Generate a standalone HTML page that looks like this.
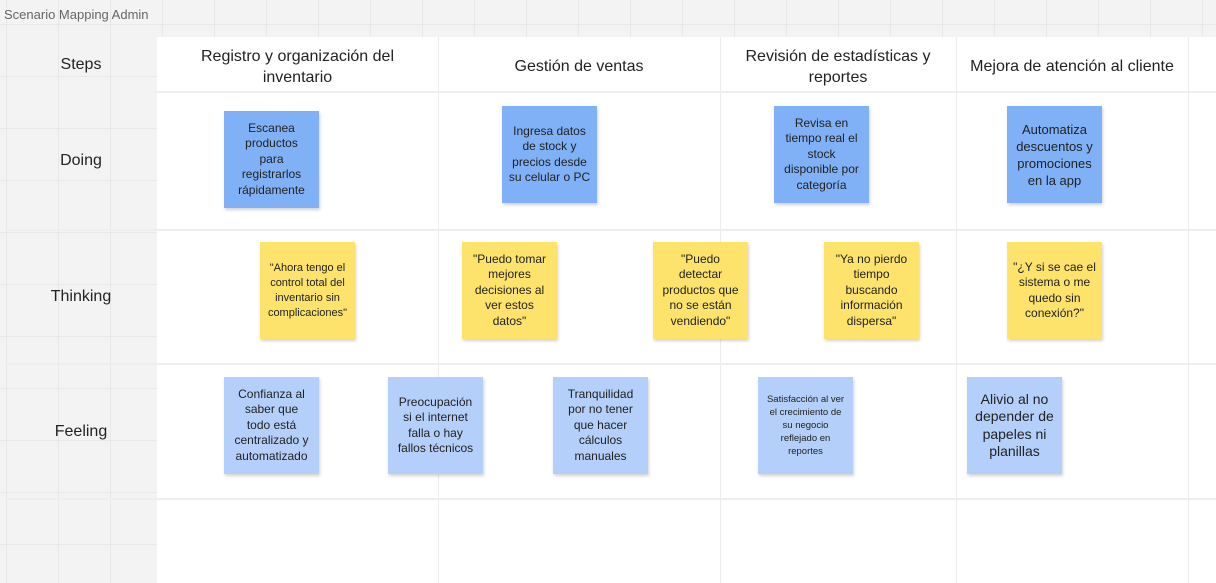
<!DOCTYPE html>
<html><head><meta charset="utf-8"><style>
*{margin:0;padding:0;box-sizing:border-box}
body{width:1216px;height:583px;overflow:hidden;position:relative;font-family:"Liberation Sans","DejaVu Sans",sans-serif;
background-color:#f3f3f3;
background-image:linear-gradient(to right,#e8e8e8 1px,transparent 1px),linear-gradient(to bottom,#e8e8e8 1px,transparent 1px);
background-size:52px 52px;background-position:6px 24px}
.a{position:absolute}
.title{left:4px;top:7px;font-size:13px;color:#666}
.board{left:157px;top:37px;width:1059px;height:546px;background:#fff}
.vl{position:absolute;top:37px;bottom:0;width:1px;background:#ececec}
.hl{position:absolute;left:5px;right:0;height:2px;background:#eeeeee}
.hd{position:absolute;top:39px;height:55px;display:flex;align-items:center;justify-content:center;text-align:center;font-size:16px;color:#222;line-height:21px}
.rl{position:absolute;left:5px;width:152px;text-align:center;font-size:16px;color:#222}
.s{position:absolute;width:95px;height:97px;display:flex;align-items:center;justify-content:center;text-align:center;font-size:12px;line-height:15.5px;color:#222;padding:4px 8px;box-shadow:1px 2px 3px rgba(0,0,0,.18)}
.b{background:#80b0f6}.y{background:#fde36c}.l{background:#b4cffa}
</style></head><body>
<div class="a title">Scenario Mapping Admin</div>
<div class="a board"></div>
<div class="vl" style="left:438px"></div>
<div class="vl" style="left:720px"></div>
<div class="vl" style="left:956px"></div>
<div class="vl" style="left:1188px"></div>
<div class="hl" style="top:91px;left:157px"></div>
<div class="hl" style="top:229px"></div>
<div class="hl" style="top:363px"></div>
<div class="hl" style="top:498px"></div>
<div class="hd" style="left:157px;width:281px">Registro y organización del<br>inventario</div>
<div class="hd" style="left:438px;width:282px">Gestión de ventas</div>
<div class="hd" style="left:720px;width:236px">Revisión de estadísticas y<br>reportes</div>
<div class="hd" style="left:956px;width:232px">Mejora de atención al cliente</div>
<div class="rl" style="top:56px">Steps</div>
<div class="rl" style="top:152px">Doing</div>
<div class="rl" style="top:288px">Thinking</div>
<div class="rl" style="top:423px">Feeling</div>

<div class="s b" style="left:224px;top:111px">Escanea productos para registrarlos rápidamente</div>
<div class="s b" style="left:502px;top:106px;padding:4px 4px">Ingresa datos de stock y precios desde su celular o PC</div>
<div class="s b" style="left:774px;top:106px">Revisa en tiempo real el stock disponible por categoría</div>
<div class="s b" style="left:1007px;top:106px;font-size:13px;line-height:17px">Automatiza descuentos y promociones en la app</div>

<div class="s y" style="left:260px;top:242px;font-size:11px;line-height:15px;padding:4px 5px">"Ahora tengo el control total del inventario sin complicaciones"</div>
<div class="s y" style="left:462px;top:242px">"Puedo tomar mejores decisiones al ver estos datos"</div>
<div class="s y" style="left:653px;top:242px">"Puedo detectar productos que no se están vendiendo"</div>
<div class="s y" style="left:824px;top:242px">"Ya no pierdo tiempo buscando información dispersa"</div>
<div class="s y" style="left:1007px;top:242px;padding:4px 5px">"¿Y si se cae el sistema o me quedo sin conexión?"</div>

<div class="s l" style="left:224px;top:377px">Confianza al saber que todo está centralizado y automatizado</div>
<div class="s l" style="left:388px;top:377px">Preocupación si el internet falla o hay fallos técnicos</div>
<div class="s l" style="left:553px;top:377px">Tranquilidad por no tener que hacer cálculos manuales</div>
<div class="s l" style="left:758px;top:377px;font-size:9.5px;line-height:13px;padding:4px 8px">Satisfacción al ver el crecimiento de su negocio reflejado en reportes</div>
<div class="s l" style="left:967px;top:377px;font-size:14px;line-height:17.5px">Alivio al no depender de papeles ni planillas</div>
</body></html>
